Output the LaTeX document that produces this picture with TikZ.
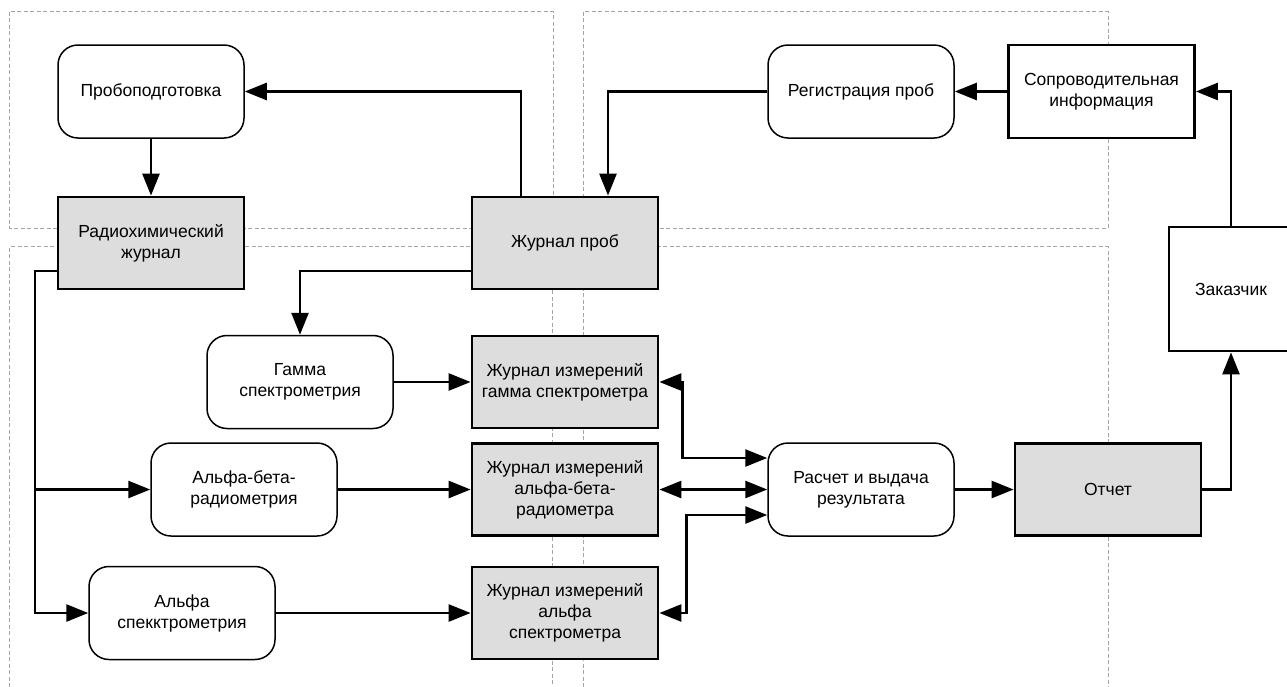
\documentclass[tikz,border=0pt]{standalone}
\usepackage{fontspec}
\setmainfont{Liberation Sans}
\usetikzlibrary{arrows.meta}
\definecolor{boxgray}{RGB}{221,221,221}
\definecolor{zonegray}{RGB}{165,165,165}
\begin{document}
\begin{tikzpicture}[x=1pt,y=-1pt,
  font=\fontsize{17.5}{21}\selectfont,
  every node/.style={align=center, inner sep=0pt},
  proc/.style={draw, line width=1.5pt, rounded corners=20pt, fill=white,
    minimum width=186pt, minimum height=93pt},
  logbox/.style={draw, line width=2.8pt, fill=boxgray,
    minimum width=186pt, minimum height=92pt},
  plain/.style={draw, line width=2.8pt, fill=white,
    minimum width=186pt, minimum height=93pt},
  zone/.style={draw=zonegray, line width=0.8pt, dash pattern=on 4pt off 2.5pt},
  link/.style={line width=2.6pt, -{Triangle[length=22pt,width=17pt]}},
  dlink/.style={line width=2.6pt,
    {Triangle[length=22pt,width=17pt]}-{Triangle[length=22pt,width=17pt]}},
]
\useasboundingbox (0,0) rectangle (1287,686);

% dashed zones
\draw[zone] (9.6,11.7) rectangle (553,228);
\draw[zone] (583.7,11.7) rectangle (1108,228);
\draw[zone] (9.6,700) |- (552.7,246.7) -- (552.7,700);
\draw[zone] (583.7,700) |- (1108,246.7) -- (1108,700);

% nodes
\node[proc]   (prep)  at (151,91.5)   {Пробоподготовка};
\node[proc]   (reg)   at (861,91.5)   {Регистрация проб};
\node[plain]  (sop)   at (1101.5,91.5) {Сопроводительная\\информация};
\node[logbox] (radj)  at (151,243)    {Радиохимический\\журнал};
\node[logbox] (jp)    at (565,243)    {Журнал проб};
\node[plain, minimum width=124pt, minimum height=124pt] (zak) at (1231,289) {Заказчик};
\node[proc]   (gamma) at (300,382)    {Гамма\\спектрометрия};
\node[logbox] (jg)    at (565,382)    {Журнал измерений\\гамма спектрометра};
\node[proc]   (ab)    at (244,489.5)  {Альфа-бета-\\радиометрия};
\node[logbox] (jab)   at (565,489.5)  {Журнал измерений\\альфа-бета-\\радиометра};
\node[proc]   (calc)  at (861,489.5)  {Расчет и выдача\\результата};
\node[logbox] (otch)  at (1108,489.5) {Отчет};
\node[proc]   (al)    at (182,613)    {Альфа\\спекктрометрия};
\node[logbox] (jal)   at (565,613)    {Журнал измерений\\альфа\\спектрометра};

% connectors
\draw[link] ([xshift=-44pt]jp.north) |- (prep.east);
\draw[link] (prep.south) -- (radj.north);
\draw[link] (reg.west) -| ([xshift=43pt]jp.north);
\draw[link] (sop.west) -- (reg.east);
\draw[link] (zak.north) |- (sop.east);
\draw[link] (otch.east) -| (zak.south);
\draw[link] (calc.east) -- (otch.west);

\coordinate (busTop) at (35,271);
\coordinate (busBot) at (35,613);
\draw[link] ([yshift=-28pt]radj.west) -- (busTop) -- (busBot) -- (al.west);
\draw[link] (busTop |- ab.west) -- (ab.west);
\draw[link] ([yshift=-28pt]jp.west) -| (gamma.north);

\draw[link] (gamma.east) -- (jg.west);
\draw[link] (ab.east) -- (jab.west);
\draw[link] (al.east) -- (jal.west);

\draw[dlink] (jg.east) -- ++(23,0) |- ([yshift=31.5pt]calc.west);
\draw[dlink] (jab.east) -- (calc.west);
\draw[dlink] (jal.east) -- ++(27,0) |- ([yshift=-25.5pt]calc.west);
\end{tikzpicture}
\end{document}
